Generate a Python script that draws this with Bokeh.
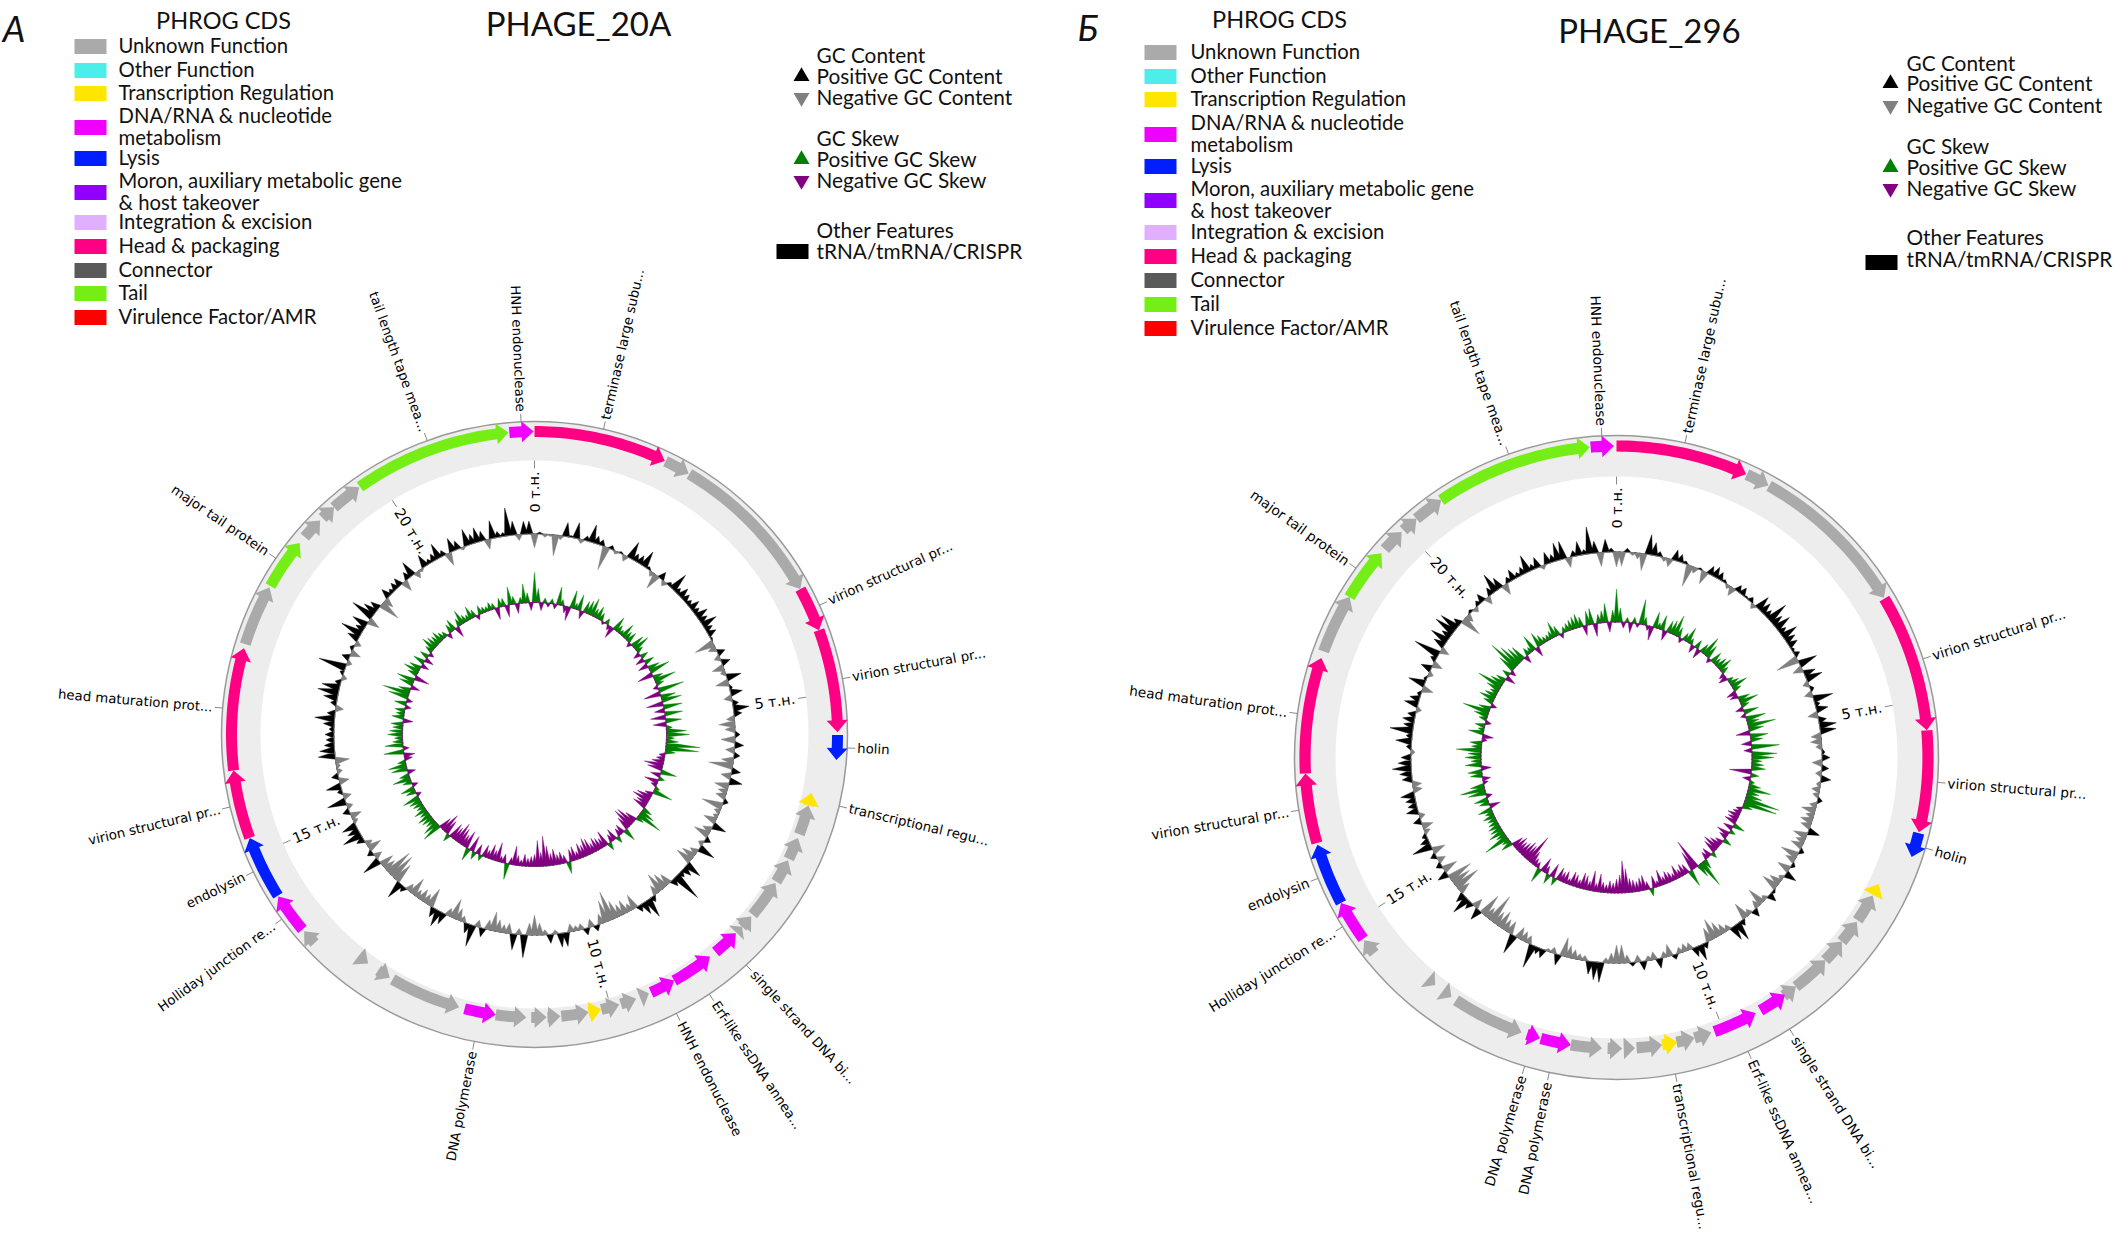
import math
from bokeh.plotting import figure
from bokeh.models import Range1d
from bokeh.core.properties import value
from bokeh.embed import file_html
from bokeh.resources import INLINE

# ---------------- data ----------------
phrog_labels = ["Unknown Function", "Other Function", "Transcription Regulation",
                "DNA/RNA & nucleotide\nmetabolism", "Lysis",
                "Moron, auxiliary metabolic gene\n& host takeover", "Integration & excision",
                "Head & packaging", "Connector", "Tail", "Virulence Factor/AMR"]
phrog_colors = ["#AAAAAA", "#4DEEEA", "#FFE600", "#F000FF", "#001EFF", "#8F00FF",
                "#E0B0FF", "#FF0084", "#5A5A5A", "#74EE15", "#FF0000"]
cat_index = {"U": 0, "O": 1, "T": 2, "D": 3, "L": 4, "M": 5, "I": 6, "H": 7, "C": 8, "A": 9, "V": 10}

length_a = 21.9
start_a = [0.00, 1.56, 1.87, 3.73, 4.25, 5.48, 6.20, 6.36, 6.78, 7.08, 7.40, 7.91, 8.08, 8.19, 8.62, 9.15, 9.50, 9.67, 9.89, 10.12, 10.28, 10.63, 10.80, 11.05, 11.43, 11.89, 12.82, 13.14, 13.78, 13.99, 14.47, 15.21, 16.01, 17.48, 18.21, 18.90, 19.20, 19.38, 19.76, 21.61]
end_a = [1.55, 1.86, 3.73, 4.25, 5.45, 5.77, 6.36, 6.73, 7.06, 7.38, 7.88, 8.08, 8.18, 8.53, 9.15, 9.47, 9.62, 9.87, 10.12, 10.28, 10.62, 10.79, 10.99, 11.43, 11.82, 12.78, 12.99, 13.29, 13.96, 14.46, 15.21, 16.01, 17.43, 18.19, 18.81, 19.16, 19.38, 19.75, 21.60, 21.89]
strand_a = [1, 1, 1, 1, 1, 1, -1, -1, -1, -1, -1, -1, -1, -1, -1, -1, -1, -1, -1, -1, -1, -1, -1, -1, -1, -1, -1, -1, 1, 1, 1, 1, 1, 1, 1, 1, 1, 1, 1, 1]
cat_a = ["H", "U", "U", "H", "H", "L", "T", "U", "U", "U", "U", "U", "U", "D", "D", "D", "U", "U", "U", "T", "U", "U", "U", "U", "D", "U", "U", "U", "U", "D", "L", "H", "H", "U", "A", "U", "U", "U", "A", "D"]
label_a = ["terminase large subu...", "", "", "virion structural pr...", "virion structural pr...", "holin",
           "transcriptional regu...", "", "", "", "", "", "", "single strand DNA bi...", "Erf-like ssDNA annea...",
           "HNH endonuclease", "", "", "", "", "", "", "", "", "DNA polymerase", "", "", "", "",
           "Holliday junction re...", "endolysin", "virion structural pr...", "head maturation prot...", "",
           "major tail protein", "", "", "", "tail length tape mea...", "HNH endonuclease"]

length_b = 22.7
start_b = [0.00, 1.56, 1.85, 3.74, 5.36, 6.56, 7.30, 7.46, 7.84, 8.15, 8.46, 8.95, 9.12, 9.55, 10.15, 10.37, 10.59, 10.78, 11.12, 11.28, 11.53, 11.92, 12.31, 12.55, 13.53, 13.78, 14.57, 14.78, 15.27, 16.02, 16.84, 18.28, 18.98, 19.67, 19.98, 20.18, 20.54, 22.40]
end_b = [1.55, 1.84, 3.73, 5.36, 6.55, 6.85, 7.45, 7.82, 8.15, 8.46, 8.95, 9.14, 9.48, 10.11, 10.37, 10.60, 10.78, 11.10, 11.26, 11.46, 11.92, 12.30, 12.48, 13.46, 13.66, 13.90, 14.76, 15.27, 16.00, 16.84, 18.20, 18.98, 19.61, 19.95, 20.18, 20.54, 22.39, 22.67]
strand_b = [1, 1, 1, 1, 1, 1, -1, -1, -1, -1, -1, -1, -1, -1, -1, -1, -1, -1, -1, -1, -1, -1, -1, -1, -1, -1, 1, 1, 1, 1, 1, 1, 1, 1, 1, 1, 1, 1]
cat_b = ["H", "U", "U", "H", "H", "L", "T", "U", "U", "U", "U", "U", "D", "D", "U", "U", "T", "U", "U", "U", "U", "D", "D", "U", "U", "U", "U", "D", "L", "H", "H", "U", "A", "U", "U", "U", "A", "D"]
label_b = ["terminase large subu...", "", "", "virion structural pr...", "virion structural pr...", "holin",
           "", "", "", "", "", "", "single strand DNA bi...", "Erf-like ssDNA annea...", "", "",
           "transcriptional regu...", "", "", "", "", "DNA polymerase", "DNA polymerase", "", "", "", "",
           "Holliday junction re...", "endolysin", "virion structural pr...", "head maturation prot...", "",
           "major tail protein", "", "", "", "tail length tape mea...", "HNH endonuclease"]

gc_a = [
 -14,2,-3,-2,-21,-4,14,2,16,-4,5,18,8,6,-24,4,-3,2,-6,18,
 8,9,17,3,-5,-16,8,-5,4,19,6,11,8,6,11,7,13,9,16,8,
 9,2,-20,-8,8,-6,9,-12,-5,15,-13,3,12,-8,6,16,8,-8,-16,-10,
 5,-14,9,-9,6,-12,-24,9,-10,13,-14,-9,-10,5,-21,-6,-5,-13,14,-9,
 -16,6,-5,17,-8,-14,-17,17,10,6,30,8,-12,-16,-20,-10,6,20,13,7,
 -15,-8,-14,-12,-18,-30,-22,-10,6,-8,7,-6,-5,-8,14,14,-4,9,-5,-12,
 -20,-12,23,-6,16,-10,-8,-12,-19,-10,9,-7,22,10,-6,-12,-20,-8,12,17,
 10,-19,-10,-12,-8,-18,-8,6,18,-20,-27,-28,-12,-14,19,-8,6,-14,-7,8,
 20,12,15,-5,-11,7,-6,19,-8,5,15,-10,7,-5,-4,-14,17,15,10,8,
 9,5,11,20,8,-8,6,14,21,18,6,-5,4,28,-5,8,-10,4,-6,12,
 22,9,16,-12,24,14,10,-21,-10,10,5,8,9,-11,8,16,-7,-3,13,5,
 8,16,6,-13,14,9,-3,17,10,15,10,-10,18,6,4,28,14,-6,13,13]
skew_a = [
 30,14,-8,5,-4,5,-5,18,6,-7,-14,18,6,16,-8,12,14,18,9,13,
 8,-3,6,-5,-12,15,8,5,15,9,11,-5,14,17,7,-7,8,-9,10,-10,
 12,21,-16,10,22,8,-5,26,-17,15,20,-17,19,-10,18,-15,16,-13,6,20,
 23,8,12,34,33,10,-6,-8,-12,-19,-15,16,-10,6,-14,-6,5,20,-8,-15,
 -18,-12,-14,10,15,26,8,-12,-20,-21,-14,13,-10,-8,7,-12,-8,8,-16,-10,
 -12,-14,-10,-16,-18,-12,-15,-8,-14,-12,12,-8,-12,-10,-16,-12,-20,-30,-14,-26,
 -12,-10,-8,-12,-6,-10,-19,-7,16,-9,-6,-19,-10,-15,-8,-12,6,-10,8,-16,
 13,-18,-12,-17,-21,-14,-16,8,-15,-20,-13,20,16,10,12,14,9,13,8,10,
 12,17,-5,10,14,-6,9,18,10,-8,16,18,8,-8,-11,20,-6,18,10,8,
 15,13,10,12,-10,12,8,10,-6,12,-6,20,27,12,-9,14,18,-15,10,16,
 12,-8,12,-9,9,-5,8,15,12,10,12,8,6,-6,9,12,-11,8,15,8,
 6,13,8,-5,9,6,5,8,6,-12,9,8,-12,18,8,-10,6,19,10,-8]
gc_b = [
 -15,-14,4,-3,-6,-17,20,13,5,-4,-8,11,8,3,-22,-6,2,-13,9,11,
 8,3,-4,-9,7,8,2,5,-5,15,12,8,22,12,17,8,17,11,10,3,
 6,-23,19,-10,12,17,-6,4,-8,20,5,12,-10,8,17,16,-10,-11,-6,3,
 8,-10,7,-6,10,-4,-8,-6,5,-7,-14,-8,-12,-10,12,-14,-9,-12,5,-18,
 -10,4,-13,12,-5,-12,-17,3,9,-5,-18,-8,8,-6,-17,6,19,15,-6,-10,
 -15,-21,-14,6,16,10,-7,-8,-6,5,-12,-6,10,-8,-5,9,-7,4,-8,-18,
 -18,-10,-5,20,18,13,-5,-6,-9,-12,-19,11,-6,-3,9,7,24,-8,-10,-12,
 20,-13,-12,-18,-14,-30,-12,-23,12,-10,8,19,10,-12,-27,-20,-25,11,-15,6,
 -8,6,-13,20,9,5,-6,-11,8,-6,12,9,10,14,-9,-9,10,12,19,13,
 10,-4,5,16,6,23,10,12,8,-5,14,10,4,-11,17,3,-5,11,-10,6,
 27,-9,12,19,10,22,20,8,-21,-8,3,-5,5,9,-8,8,20,12,-11,6,
 11,5,8,18,6,11,-4,12,8,18,18,-10,6,14,5,27,12,-14,13,4]
skew_b = [
 33,14,-6,5,-10,6,-4,25,8,-5,-14,16,6,15,-10,12,14,21,10,-5,
 8,16,6,-8,9,-10,10,21,14,-5,12,8,12,15,8,-6,-9,6,10,17,
 8,-10,-8,12,19,8,-8,15,-5,20,12,28,15,-14,18,12,-10,28,-8,25,
 22,10,12,14,-22,8,-8,5,12,23,12,16,35,34,10,-6,-8,-12,-10,-12,
 12,-10,6,-13,-8,9,-8,-12,-17,-14,6,-10,-8,10,28,14,-31,-20,17,-10,
 -12,-8,-14,-7,-10,-12,-8,-16,-6,-12,8,-8,-15,-13,-10,-12,-14,-24,-32,-18,
 -14,-10,-12,-8,-10,-18,-8,-20,-9,-14,-16,-8,-12,-14,-6,-12,-10,-13,8,-14,
 10,-8,-15,15,-6,-8,-14,-30,-16,-18,-14,-12,-15,-12,12,8,26,10,16,12,
 12,10,9,12,8,14,-11,10,14,-6,18,25,14,-5,-8,12,14,-10,16,10,
 16,13,25,10,12,-5,-11,15,6,10,-6,8,14,27,12,-6,10,16,12,8,
 14,26,14,10,-10,8,-6,18,32,24,18,16,-8,8,6,17,-10,15,10,6,
 6,8,16,10,-5,6,8,10,12,14,10,-10,14,16,-13,9,12,19,-10,12]

gc_legend = [("GC Content", None, None), ("Positive GC Content", "triangle", "#000000"), ("Negative GC Content", "inverted_triangle", "#808080"),
             ("GC Skew", None, None), ("Positive GC Skew", "triangle", "#008000"), ("Negative GC Skew", "inverted_triangle", "#800080"),
             ("Other Features", None, None), ("tRNA/tmRNA/CRISPR", "square", "#000000")]
tick_kb = [0, 5, 10, 15, 20]

# ---------------- layout ----------------
W, H = 2125, 1245
LEG_FONT = value("Lato")
LAB_FONT = value("DejaVu Sans")
def Y(px):
    return H - px

p = figure(width=2117, height=1237, x_range=Range1d(0, 2117), y_range=Range1d(8, 1245),
           output_backend="svg", toolbar_location=None, x_axis_type=None, y_axis_type=None,
           min_border=0, outline_line_color=None)
p.xgrid.visible = False
p.ygrid.visible = False
p.background_fill_color = "#ffffff"


def polar(cx, cy, r, deg):
    t = math.radians(deg)
    return cx + r * math.sin(t), Y(cy) + r * math.cos(t)


def arrow(cx, cy, r, hw, hh, a0, a1, strand):
    head = math.degrees(12.0 / r)
    tail, tip = (a0, a1) if strand > 0 else (a1, a0)
    sgn = 1 if tip > tail else -1
    span = abs(tip - tail)
    neck = tail + sgn * max(span - head, 0)
    n = max(2, int(abs(neck - tail) / 1.0) + 2)
    arc = [tail + (neck - tail) * i / (n - 1) for i in range(n)]
    pts = [polar(cx, cy, r + hw, a) for a in arc]
    pts.append(polar(cx, cy, r + hh, neck))
    pts.append(polar(cx, cy, r, tip))
    pts.append(polar(cx, cy, r - hh, neck))
    pts += [polar(cx, cy, r - hw, a) for a in reversed(arc)]
    return [q[0] for q in pts], [q[1] for q in pts]


def spikes(cx, cy, base, vals, color_pos, color_neg):
    step = 360.0 / len(vals)
    half = step * 0.72
    for color, keep in ((color_pos, lambda v: max(v, 0)), (color_neg, lambda v: min(v, 0))):
        oxs, oys, ixs, iys = [], [], [], []
        for i, v in enumerate(vals):
            a = i * step
            for aa, rr in ((a - half, base), (a, base + keep(v)), (a + half, base)):
                x, y = polar(cx, cy, rr, aa)
                oxs.append(x); oys.append(y)
            x, y = polar(cx, cy, base, a)
            ixs.append(x); iys.append(y)
        oxs.append(oxs[0]); oys.append(oys[0])
        ixs.append(ixs[0]); iys.append(iys[0])
        p.patch(oxs + ixs[::-1], oys + iys[::-1], fill_color=color, line_color=color, line_width=0.4)


def panel(cx, cy, R, inner, L, rf, rr, rgc, rsk, hw, hh, starts, ends, strands, cats, labels, gc, skew, fs):
    p.annulus(x=[cx], y=[Y(cy)], inner_radius=inner, outer_radius=R, fill_color="#EDEDED", line_color=None)
    p.circle(x=[cx], y=[Y(cy)], radius=R, fill_color=None, line_color="#999999", line_width=1.5)
    xs, ys, cols = [], [], []
    for s, e, st, c in zip(starts, ends, strands, cats):
        ax, ay = arrow(cx, cy, rf if st > 0 else rr, hw, hh, s / L * 360, e / L * 360, st)
        xs.append(ax); ys.append(ay); cols.append(phrog_colors[cat_index[c]])
    p.patches(xs, ys, fill_color=cols, line_color=None)
    # gene labels
    sx0, sy0, sx1, sy1 = [], [], [], []
    groups = {"left": ([], [], [], []), "right": ([], [], [], [])}
    for s, e, lab in zip(starts, ends, labels):
        if not lab:
            continue
        a = (s + e) / 2 / L * 360
        x0, y0 = polar(cx, cy, R, a); x1, y1 = polar(cx, cy, R + 8, a)
        sx0.append(x0); sy0.append(y0); sx1.append(x1); sy1.append(y1)
        tx, ty = polar(cx, cy, R + 10, a)
        if a < 180:
            g = groups["left"]; ang = 90 - a
        else:
            g = groups["right"]; ang = 270 - a
        g[0].append(tx); g[1].append(ty); g[2].append(lab); g[3].append(math.radians(ang))
    p.segment(sx0, sy0, sx1, sy1, line_color="#888888", line_width=1)
    for align, g in groups.items():
        p.text(g[0], g[1], text=g[2], angle=g[3], text_align=align, text_baseline="middle",
               text_font=LAB_FONT, text_font_size=fs, text_color="#000000")
    # position ticks
    sx0, sy0, sx1, sy1 = [], [], [], []
    groups = {"left": ([], [], [], []), "right": ([], [], [], [])}
    for k in tick_kb:
        a = k / L * 360
        x0, y0 = polar(cx, cy, inner, a); x1, y1 = polar(cx, cy, inner - 8, a)
        sx0.append(x0); sy0.append(y0); sx1.append(x1); sy1.append(y1)
        tx, ty = polar(cx, cy, inner - 11, a)
        if a < 180:
            g = groups["right"]; ang = 90 - a
        else:
            g = groups["left"]; ang = 270 - a
        g[0].append(tx); g[1].append(ty); g[2].append("%d т.н." % k); g[3].append(math.radians(ang))
    p.segment(sx0, sy0, sx1, sy1, line_color="#888888", line_width=1)
    for align, g in groups.items():
        p.text(g[0], g[1], text=g[2], angle=g[3], text_align=align, text_baseline="middle",
               text_font=LAB_FONT, text_font_size="14.5px", text_color="#000000")
    spikes(cx, cy, rgc, gc, "#000000", "#808080")
    spikes(cx, cy, rsk, skew, "#008000", "#800080")


def legend(sw_x, sw_ys, text_x, title_x, title_y, name, name_x, name_y, letter, letter_x, letter_y,
           mk_x, text2_x, text2_ys, sw2_x, sw2_y):
    p.rect([sw_x] * len(sw_ys), [Y(v) for v in sw_ys], width=32, height=15, fill_color=phrog_colors, line_color=None)
    tx, ty, tt = [], [], []
    for lab, yy in zip(phrog_labels, sw_ys):
        parts = lab.split("\n")
        for i, part in enumerate(parts):
            tx.append(text_x); tt.append(part)
            ty.append(Y(yy - 2 + (i - (len(parts) - 1) / 2) * 22))
    p.text(tx, ty, text=tt, text_align="left", text_baseline="middle", text_font=LEG_FONT,
           text_font_size="20.3px", text_color="#111111")
    p.text([title_x], [Y(title_y - 1)], text=["PHROG CDS"], text_align="center", text_baseline="middle",
           text_font=LEG_FONT, text_font_size="23.5px", text_color="#111111")
    p.text([name_x], [Y(name_y - 3)], text=[name], text_align="center", text_baseline="middle",
           text_font=LEG_FONT, text_font_size="33px", text_color="#111111")
    p.text([letter_x], [Y(letter_y)], text=[letter], text_align="left", text_baseline="middle",
           text_font=LEG_FONT, text_font_size="36px", text_font_style="italic", text_color="#111111")
    p.text([text2_x] * len(gc_legend), [Y(v - 1.5) for v in text2_ys], text=[g[0] for g in gc_legend], text_align="left",
           text_baseline="middle", text_font=LEG_FONT, text_font_size="20.8px", text_color="#111111")
    for g, yy in zip(gc_legend, text2_ys):
        if g[1] in ("triangle", "inverted_triangle"):
            p.scatter([mk_x], [Y(yy)], marker=g[1], size=16, fill_color=g[2], line_color=None)
    p.rect([sw2_x], [Y(sw2_y)], width=32, height=15, fill_color=gc_legend[7][2], line_color=None)


panel(534, 734, 313, 274, length_a, 303, 283, 200.5, 132, 5.5, 10.5, start_a, end_a, strand_a, cat_a, label_a, gc_a, skew_a, "13.3px")
panel(1616, 757, 322, 281, length_b, 311.5, 291, 205.5, 135.5, 5.6, 10.8, start_b, end_b, strand_b, cat_b, label_b, gc_b, skew_b, "13.7px")

legend(90, [46, 70, 93, 127, 158, 192, 222, 246, 270, 293, 317], 118, 223, 20,
       "PHAGE_20A", 578, 25, "А", 2, 27,
       801, 816, [55, 76, 97, 138, 159, 180, 230, 251], 792, 251)
legend(1160, [52, 76, 99, 134, 166, 200, 232, 256, 280, 304, 328], 1190, 1279, 19,
       "PHAGE_296", 1649, 32, "Б", 1077, 26,
       1890, 1906, [63, 83, 105, 146, 167, 188, 237, 259], 1881, 262)

open("out.html", "w").write(file_html(p, INLINE))
